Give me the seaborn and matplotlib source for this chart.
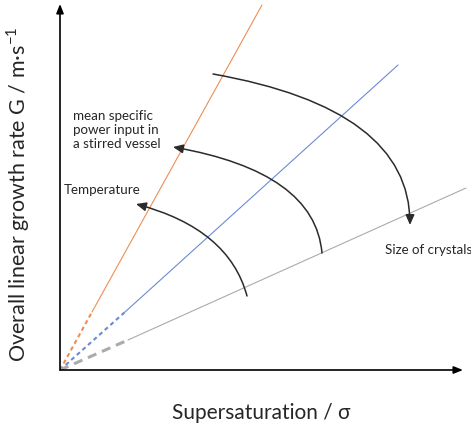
import seaborn as sns
import matplotlib.pyplot as plt

# Lines through the origin (sigma, G) - first segment dashed, rest solid
sigma_orange = [0, 32, 202]
G_orange = [0, 58, 365]
sigma_blue = [0, 65, 338]
G_blue = [0, 58, 305]
sigma_gray = [0, 68, 406]
G_gray = [0, 30, 182]

# Curved arrows: start point, arrow tip, start angle, end angle
arc_starts = [(187, 74), (262, 117), (153, 296)]
arc_tips = [(76, 166), (113, 223), (350, 145)]
arc_angles = [(105, 165), (95, 170), (-10, 90)]

labels = ["Temperature", "mean specific\npower input in\na stirred vessel", "Size of crystals"]
label_pos = [(4, 180), (13, 240), (325, 120)]

x_end, y_end = 403, 366


def main():
    sns.set_theme(style="white")
    plt.rcParams['font.family'] = ['Lato', 'DejaVu Sans']
    plt.rcParams['mathtext.fontset'] = 'custom'
    plt.rcParams['mathtext.rm'] = 'Lato'

    fig = plt.figure(figsize=(4.71, 4.23), dpi=100)
    ax = fig.add_axes([60 / 471, 53 / 423, 403 / 471, 366 / 423])

    series = [(sigma_orange, G_orange, '#EE8D52', 1.5, (2, 1.6)),
              (sigma_blue, G_blue, '#6A8BD2', 1.5, (2, 1.6)),
              (sigma_gray, G_gray, '#ABABAB', 2.2, (3, 2))]
    for xs, ys, col, dlw, dash in series:
        l = sns.lineplot(x=xs[:2], y=ys[:2], ax=ax, color=col, lw=dlw, estimator=None)
        l.lines[-1].set_dashes(dash)
        sns.lineplot(x=xs[1:], y=ys[1:], ax=ax, color=col, lw=0.8, estimator=None)
        ax.lines[-1].set_clip_on(False)

    for (sx, sy), (tx, ty), (a, b) in zip(arc_starts, arc_tips, arc_angles):
        ax.annotate('', xy=(tx, ty), xytext=(sx, sy),
                    arrowprops=dict(arrowstyle='-|>,head_length=0.5,head_width=0.22',
                                    color='#2b2b2b', lw=1.1, shrinkA=0, shrinkB=0,
                                    connectionstyle=f'angle3,angleA={a},angleB={b}'))

    for txt, (x, y) in zip(labels, label_pos):
        ax.text(x, y, txt, fontsize=9.6, color='#262626', ha='left', va='center',
                linespacing=1.15)

    # axes with arrows
    for end in [(x_end, 0), (0, y_end)]:
        ax.annotate('', xy=end, xytext=(0, 0), annotation_clip=False,
                    arrowprops=dict(arrowstyle='-|>,head_length=0.45,head_width=0.18',
                                    color='black', lw=1.2, shrinkA=0, shrinkB=0))

    ax.set_xlim(0, x_end)
    ax.set_ylim(0, y_end)
    ax.set_xticks([])
    ax.set_yticks([])
    for s in ax.spines.values():
        s.set_visible(False)

    ax.set_xlabel('Supersaturation / σ', fontsize=15, color='#262626', labelpad=24)
    ax.set_ylabel('Overall linear growth rate G / m·s$^{\\mathregular{-1}}$',
                  fontsize=15.5, color='#262626', labelpad=20)
    ax.yaxis.label.set_y(0.48)

    fig.savefig('out.png', dpi=100)


if __name__ == "__main__":
    main()
